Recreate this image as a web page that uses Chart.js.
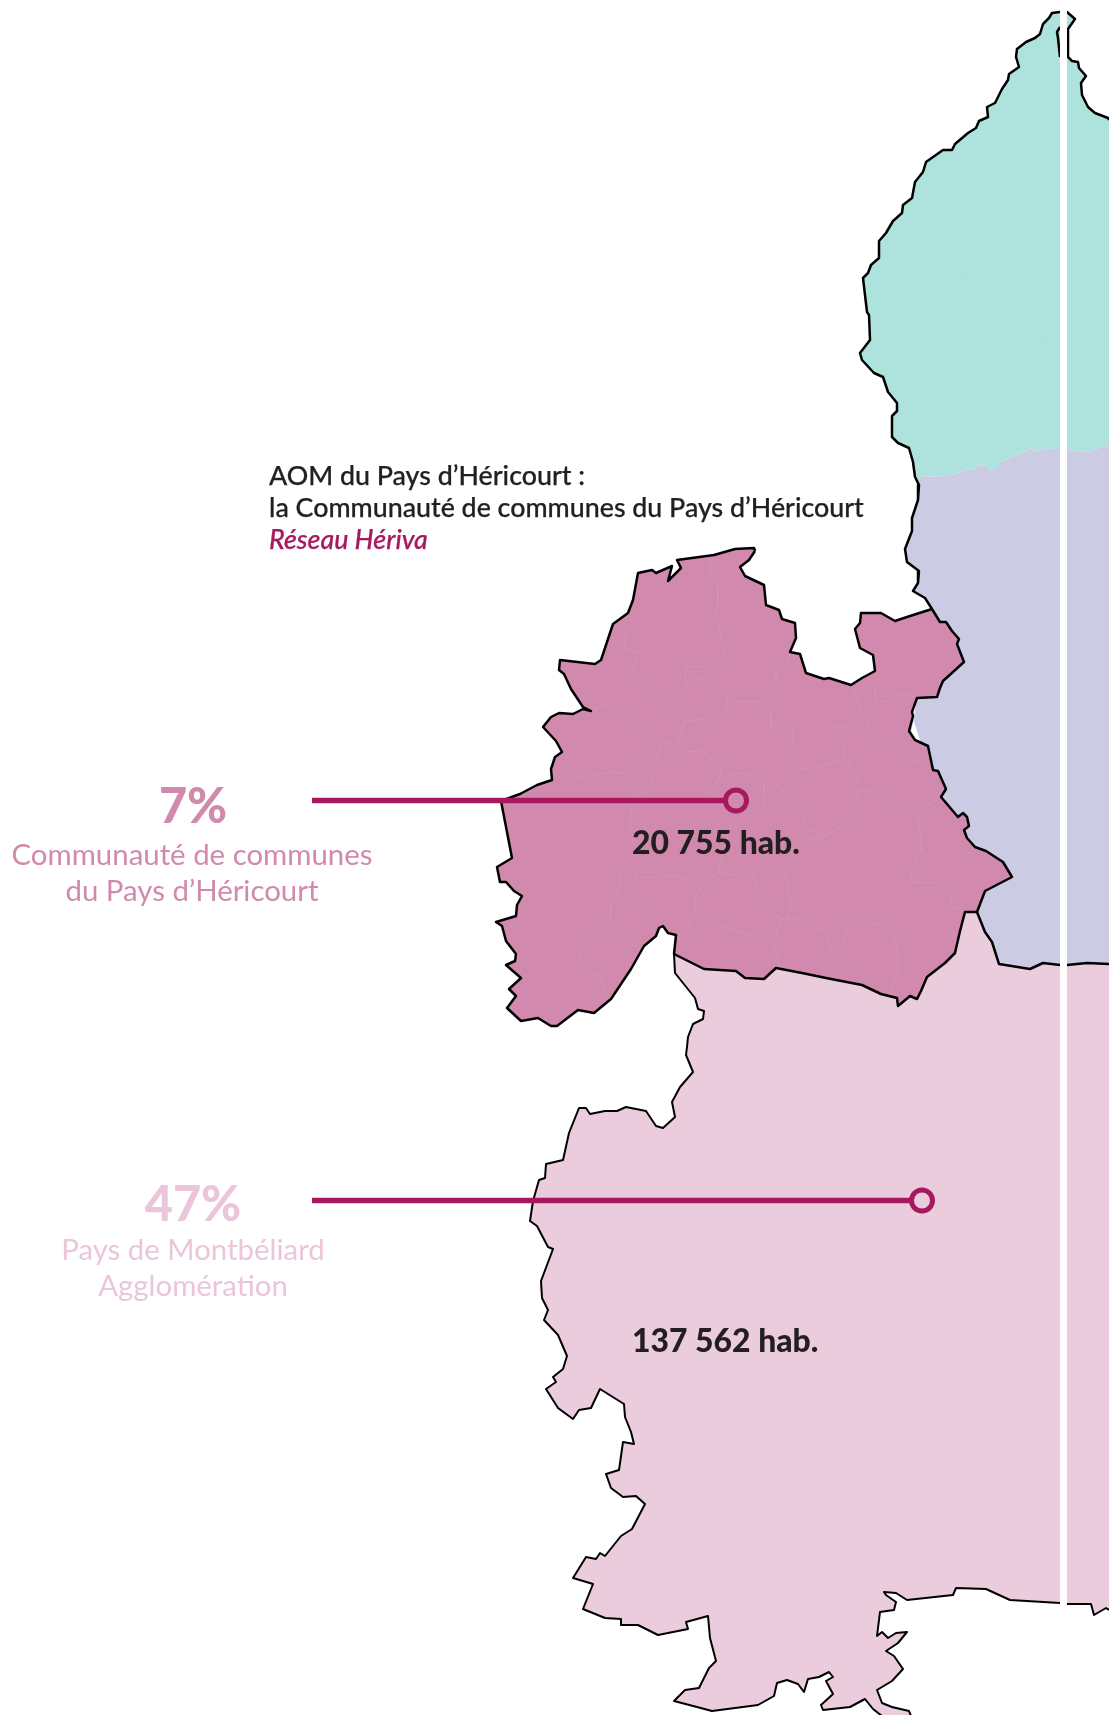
<!DOCTYPE html>
<html lang="fr">
<head>
<meta charset="utf-8">
<title>Part de la population par AOM</title>
<script src="https://cdn.jsdelivr.net/npm/chart.js"></script>
<style>
  html, body { margin: 0; padding: 0; background: #fff; }
  #wrap { position: relative; width: 1109px; height: 1715px; overflow: hidden; font-family: Lato, sans-serif; }
  canvas { position: absolute; left: 0; top: 0; }
  .t { position: absolute; white-space: nowrap; }
  .c { left: 0; width: 386px; text-align: center; }
  .pct { font-weight: 900; font-size: 48.5px; line-height: 60px; }
  .lab { font-size: 29.4px; line-height: 35.5px; }
  .hab { font-weight: 900; font-size: 31.9px; line-height: 36px; color: #231f20; left: 632px; }
  .aom { left: 269px; font-size: 26.8px; line-height: 32px; color: #231f20; font-weight: 500; -webkit-text-stroke: 0.25px #231f20; }
</style>
</head>
<body>
<div id="wrap">
  <canvas id="map" width="1109" height="1715"></canvas>
  <div class="t aom" style="top: 459px">AOM du Pays d’Héricourt :<br>la Communauté de communes du Pays d’Héricourt<br><i style="color:#a6195f; -webkit-text-stroke: 0.25px #a6195f">Réseau Hériva</i></div>
  <div class="t c pct" style="top: 774px; color: #d18aad">7%</div>
  <div class="t c lab" style="top: 836px; left: -1px; color: #d18aad">Communauté de communes</div>
  <div class="t c lab" style="top: 872px; left: -1px; color: #d18aad">du Pays d’Héricourt</div>
  <div class="t hab" style="top: 824px">20 755 hab.</div>
  <div class="t c pct" style="top: 1172px; color: #ebc6da">47%</div>
  <div class="t c lab" style="top: 1231px; color: #ebc6da">Pays de Montbéliard</div>
  <div class="t c lab" style="top: 1267px; color: #ebc6da">Agglomération</div>
  <div class="t hab" style="top: 1322px">137 562 hab.</div>
</div>
<script>
  // outlines, in page pixels
  const northEdge = [[915,477],[913,462],[909,448],[898,443],[892,437],[892,416],[897,411],[897,403],[888,392],[883,377],[874,373],[862,360],[860,353],[870,340],[869,315],[867,312],[863,278],[868,273],[871,265],[879,258],[879,241],[886,233],[893,221],[902,213],[903,205],[912,198],[915,182],[923,172],[926,162],[943,150],[952,150],[955,144],[968,133],[976,128],[979,121],[988,117],[987,107],[995,103],[1002,89],[1008,80],[1009,74],[1019,67],[1016,57],[1017,49],[1026,42],[1035,38],[1040,34],[1043,24],[1049,18],[1052,13],[1060,12],[1067,12],[1075,19],[1068,29],[1068,57],[1072,61],[1078,62],[1079,68],[1086,76],[1081,83],[1082,95],[1088,107],[1095,113],[1108,118],[1109,120]];
  const northSpur = [[1060,27],[1057,32],[1058,38],[1060,57]];
  const tealPurpleBorder = [[1109,445],[1087,452],[1060,449],[1057,448],[1035,451],[1032,448],[1017,455],[1000,462],[997,468],[990,471],[986,464],[983,467],[979,464],[975,469],[965,470],[950,476],[919,477],[915,477]];
  const westEdge = [[915,477],[919,485],[918,500],[912,518],[912,531],[905,549],[907,562],[919,571],[918,583],[913,591],[925,598],[932,609]];
  const purplePinkBorder = [[977,912],[985,932],[992,942],[999,964],[1030,969],[1043,963],[1060,965],[1067,965],[1087,963],[1109,964]];
  const hericourtEdge = [[755,551],[749,560],[740,567],[745,576],[764,585],[766,605],[779,610],[782,619],[795,623],[796,638],[790,652],[800,654],[806,673],[824,679],[829,678],[851,685],[862,678],[875,671],[873,655],[860,648],[855,629],[860,623],[861,613],[881,613],[895,621],[910,616],[932,609],[940,622],[946,622],[952,631],[959,639],[957,644],[964,662],[943,681],[940,688],[937,697],[917,698],[912,712],[913,716],[909,731],[915,740],[928,746],[933,770],[938,771],[946,789],[941,797],[958,817],[963,813],[967,817],[969,826],[964,830],[967,838],[975,847],[986,851],[1003,862],[1012,877],[985,891],[977,912],[965,912],[960,931],[955,953],[945,963],[927,977],[921,991],[917,999],[910,996],[898,1006],[897,998],[881,994],[862,985],[826,978],[802,973],[776,968],[764,979],[745,978],[736,971],[704,969],[674,954],[676,935],[668,933],[663,926],[659,928],[656,936],[644,946],[631,969],[611,999],[594,1013],[578,1010],[557,1026],[551,1026],[538,1018],[521,1021],[507,1008],[516,996],[509,989],[521,978],[506,965],[515,961],[516,954],[506,941],[502,926],[496,922],[516,916],[517,905],[522,896],[514,891],[506,882],[500,882],[497,867],[512,858],[501,801],[520,794],[537,785],[552,780],[551,769],[555,757],[562,752],[556,741],[543,727],[551,717],[559,713],[573,714],[583,709],[591,711],[583,707],[571,689],[564,674],[559,670],[560,660],[595,664],[601,660],[613,624],[628,613],[633,600],[638,573],[652,570],[656,573],[672,566],[668,581],[681,568],[677,560],[714,555],[735,549],[754,548],[755,551]];
  const pinkEdge = [[674,954],[675,973],[695,998],[698,1009],[704,1011],[703,1019],[693,1024],[688,1037],[687,1047],[686,1055],[693,1072],[680,1087],[672,1102],[675,1117],[663,1128],[656,1126],[646,1111],[626,1107],[617,1111],[605,1111],[590,1114],[586,1108],[579,1108],[569,1133],[563,1160],[546,1164],[545,1178],[539,1180],[533,1201],[530,1221],[537,1226],[548,1247],[553,1249],[541,1281],[542,1298],[548,1310],[544,1320],[558,1335],[567,1356],[563,1369],[553,1377],[556,1382],[546,1389],[558,1408],[573,1419],[579,1410],[591,1408],[600,1389],[624,1404],[625,1417],[631,1432],[634,1444],[623,1442],[619,1470],[606,1474],[611,1488],[623,1497],[636,1496],[645,1504],[632,1529],[621,1536],[605,1556],[600,1553],[596,1559],[586,1557],[573,1578],[593,1584],[583,1609],[605,1618],[621,1619],[621,1625],[638,1625],[658,1635],[688,1629],[686,1622],[708,1616],[710,1638],[716,1661],[709,1668],[699,1688],[685,1690],[674,1701],[697,1707],[712,1711],[758,1705],[774,1696],[777,1683],[787,1680],[798,1684],[804,1692],[808,1679],[819,1677],[829,1672],[833,1677],[826,1681],[833,1694],[821,1705],[823,1710],[850,1707],[865,1699],[873,1709],[882,1716],[911,1716],[909,1711],[892,1707],[882,1703],[877,1690],[892,1681],[903,1669],[894,1656],[886,1651],[898,1643],[907,1632],[896,1633],[888,1638],[882,1632],[877,1636],[880,1612],[894,1610],[896,1602],[886,1595],[884,1592],[896,1593],[907,1600],[953,1595],[956,1588],[986,1589],[1010,1600],[1060,1603],[1067,1604],[1091,1604],[1094,1615],[1106,1608],[1109,1610]];

  // points that only close a fill, they stay hidden under the Héricourt shape
  const purpleHidden = [[900,800],[900,680]];

  // commune limits inside the Héricourt shape
  const communeLimits = [
    [[714,556],[709,573],[718,588],[718,601],[716,613],[725,654],[704,667],[686,666],[685,689]],
    [[685,689],[700,677],[728,696],[736,702],[761,702],[776,681],[776,668],[789,663],[790,653]],
    [[616,626],[625,636],[624,649],[640,653],[632,669],[649,679],[662,699],[686,721],[704,719],[714,722],[726,714],[728,696]],
    [[761,702],[771,711],[771,728],[788,721],[793,732],[793,746],[783,755],[786,767],[804,769],[824,766],[845,759],[845,746],[833,727],[850,726],[862,711],[852,686]],
    [[862,711],[871,729],[885,742],[904,759],[928,764]],
    [[855,694],[874,683],[876,702],[890,701],[900,694],[916,697]],
    [[686,721],[678,742],[683,752],[702,751],[721,767],[719,780],[707,789],[728,809]],
    [[719,780],[738,773],[749,774],[764,785],[764,795],[776,783],[800,812],[809,830],[827,835],[843,825],[859,799],[855,792],[859,784],[847,759]],
    [[855,792],[869,790],[895,802],[917,812],[940,797]],
    [[917,812],[921,835],[921,850],[910,872],[912,882],[928,883],[941,882],[952,898],[950,906],[964,911]],
    [[764,795],[762,802],[769,815]],
    [[805,840],[827,835]],
    [[735,815],[730,828],[718,872],[735,875],[750,865],[769,853],[785,875],[792,906],[786,920]],
    [[750,865],[759,893],[780,920],[795,918],[824,931],[831,951],[843,960],[850,974]],
    [[780,920],[773,945],[780,968]],
    [[773,945],[755,936],[721,926],[695,911],[695,898],[704,882],[718,872]],
    [[704,882],[666,875],[656,878],[642,877],[633,882],[642,863],[635,853],[619,875],[621,883],[642,903],[661,925]],
    [[695,911],[687,933],[676,935]],
    [[621,883],[611,905],[611,915],[604,933],[578,951],[583,969],[599,976],[607,996]],
    [[604,933],[625,941],[642,950]],
    [[841,950],[850,916],[874,925],[885,921],[897,945],[898,968],[890,996]],
    [[563,782],[568,772],[580,777],[614,772],[628,774],[640,764],[652,775],[654,782],[633,800],[630,825],[635,853]],
    [[640,764],[656,759],[661,746],[676,739],[686,721]],
    [[661,746],[649,727],[623,712],[607,704],[592,711]]
  ];

  // same thing in the teal area, barely visible
  const tealLimits = [
    [[923,223],[938,267],[965,277],[993,280],[1020,267],[1045,247],[1050,217],[1060,207]],
    [[877,305],[915,305],[970,298],[965,277]],
    [[980,327],[990,347],[1043,337],[1045,358],[1060,360]],
    [[888,388],[963,375],[993,368],[1007,407],[1027,420],[1028,448]]
  ];

  const leaderStart = 312;
  const markers = [[736,800.5],[922,1200.5]];
  const markerRadius = 10.5;

  const teal = '#aee2dc', purple = '#cbcce4', pink = '#eaccdc', rose = '#d18aad';
  const plum = '#a6195f', black = '#000';

  const pts = arr => arr.map(([x, y]) => ({ x, y }));
  const shape = (arr, color) => ({
    data: pts(arr), showLine: true, fill: 'shape', backgroundColor: color,
    borderColor: color, borderWidth: 0, pointRadius: 0
  });
  const stroke = (arr, color, width) => ({
    data: pts(arr), showLine: true, fill: false, borderColor: color,
    borderWidth: width, pointRadius: 0, borderJoinStyle: 'round'
  });

  const pinkShape = pinkEdge.concat([[1109,960],[977,912]]);
  const tealShape = northEdge.concat(tealPurpleBorder);
  const purpleShape = westEdge.concat(purpleHidden, [[977,912]], purplePinkBorder, tealPurpleBorder);

  // painted in this order, the last one ends up on top
  const layers = [
    shape(pinkShape, pink),
    shape(tealShape, teal),
    shape(purpleShape, purple),
    shape(hericourtEdge, rose)
  ];
  communeLimits.forEach(l => layers.push(stroke(l, '#d692b3', 1)));
  tealLimits.forEach(l => layers.push(stroke(l, '#ace1db', 1)));
  layers.push(
    stroke(northEdge, black, 2.5),
    stroke(northSpur, black, 2.5),
    stroke(westEdge, black, 2.5),
    stroke(purplePinkBorder, black, 2.5),
    stroke(pinkEdge, black, 2),
    stroke(hericourtEdge, black, 2.5),
    stroke([[1063.5,0],[1063.5,1604]], '#fff', 7)
  );
  markers.forEach(([x, y]) => {
    layers.push(stroke([[leaderStart,y],[x - markerRadius,y]], plum, 5.5));
    layers.push({
      data: pts([[x,y]]), showLine: false, pointRadius: markerRadius,
      pointBackgroundColor: 'transparent', pointBorderColor: plum, pointBorderWidth: 5
    });
  });
  // Chart.js paints the first dataset last
  const datasets = layers.reverse();

  new Chart(document.getElementById('map'), {
    type: 'scatter',
    data: { datasets },
    options: {
      responsive: false,
      animation: false,
      events: [],
      layout: { padding: 0, autoPadding: false },
      elements: { line: { tension: 0 } },
      plugins: { legend: { display: false }, tooltip: { enabled: false } },
      scales: {
        x: { type: 'linear', min: 0, max: 1109, display: false },
        y: { type: 'linear', min: 0, max: 1715, reverse: true, display: false }
      }
    }
  });
</script>
</body>
</html>
